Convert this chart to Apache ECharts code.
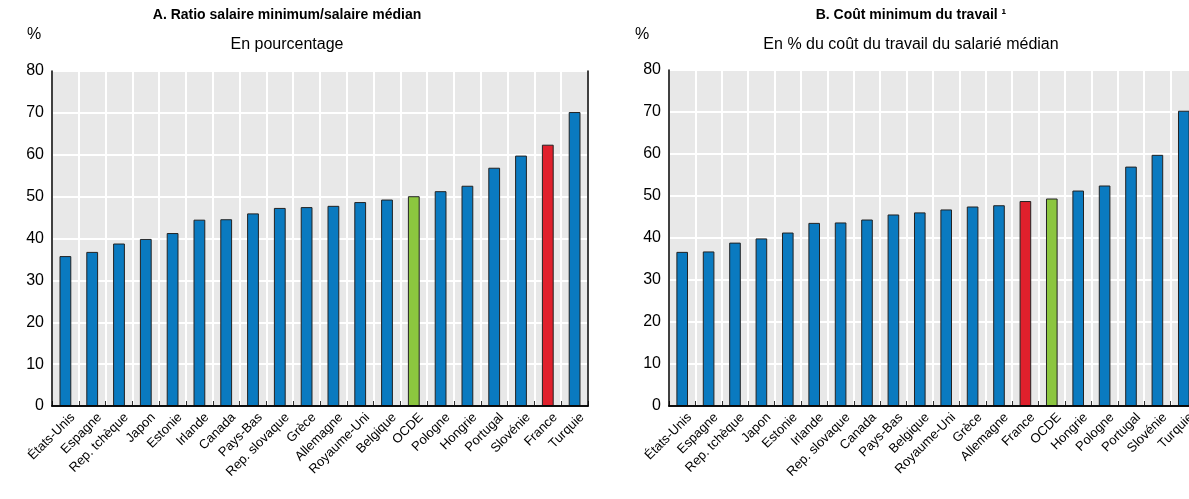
<!DOCTYPE html>
<html>
<head>
<meta charset="utf-8">
<script src="https://cdn.jsdelivr.net/npm/echarts@6/dist/echarts.min.js"></script>
<style>
html,body{margin:0;padding:0;background:#fff;}
#c{width:1189px;height:499px;}
</style>
</head>
<body>
<div id="c"></div>
<script>
const categoriesA = ["États-Unis","Espagne","Rep. tchèque","Japon","Estonie","Irlande","Canada","Pays-Bas","Rep. slovaque","Grèce","Allemagne","Royaume-Uni","Belgique","OCDE","Pologne","Hongrie","Portugal","Slovénie","France","Turquie"];
const valuesA = [35.8,36.8,38.8,39.9,41.3,44.5,44.6,46.0,47.3,47.5,47.8,48.7,49.3,50.1,51.3,52.6,56.9,59.8,62.4,70.2];
const categoriesB = ["États-Unis","Espagne","Rep. tchèque","Japon","Estonie","Irlande","Rep. slovaque","Canada","Pays-Bas","Belgique","Royaume-Uni","Grèce","Allemagne","France","OCDE","Hongrie","Pologne","Portugal","Slovénie","Turquie"];
const valuesB = [36.7,36.8,38.9,39.9,41.3,43.6,43.7,44.4,45.6,46.1,46.8,47.5,47.8,48.8,49.4,51.3,52.5,57.0,59.8,70.3];
const yTicks = {min:0, max:80, interval:10};
const titleA = "A. Ratio salaire minimum/salaire médian";
const subA = "En pourcentage";
const titleB = "B. Coût minimum du travail ¹";
const subB = "En % du coût du travail du salarié médian";

const FONT = "'Liberation Sans',Arial,sans-serif";
const BLUE = '#0A7AC0', RED = '#E0202C', GREEN = '#8CC63F';
function colorFor(name){ return name === 'France' ? RED : (name === 'OCDE' ? GREEN : BLUE); }
function makeData(cats, vals){
  return vals.map((v,i)=>({value:v, itemStyle:{color:colorFor(cats[i])}}));
}

const grids = [
  {left:52, width:536, top:71, height:335},
  {left:669, width:528, top:70, height:336}
];
const chart = echarts.init(document.getElementById('c'));
const xAxes = [], yAxes = [], series = [];
[[categoriesA,valuesA],[categoriesB,valuesB]].forEach(([cats,vals],g)=>{
  xAxes.push({
    type:'category', gridIndex:g, data:cats, boundaryGap:true,
    axisLine:{lineStyle:{color:'#000',width:1.5}},
    axisTick:{show:true, inside:true, length:5, interval:0, lineStyle:{color:'#333',width:1}},
    axisLabel:{interval:0, rotate:45, fontFamily:FONT, fontSize:13, color:'#000', margin:2,
               verticalAlign:'top', lineHeight:21, hideOverlap:false},
    splitLine:{show:true, interval:0, lineStyle:{color:'#fff',width:2}},
    z:2
  });
  xAxes.push({
    type:'category', gridIndex:g, position:'top', data:cats,
    axisLine:{show:true, lineStyle:{color:'#000',width:1.5}},
    axisTick:{show:false}, axisLabel:{show:false}, splitLine:{show:false}, z:10
  });
  yAxes.push({
    type:'value', gridIndex:g, min:yTicks.min, max:yTicks.max, interval:yTicks.interval,
    axisLine:{show:false},
    axisTick:{show:false},
    axisLabel:{fontFamily:FONT, fontSize:16, color:'#000', margin:8},
    splitLine:{show:true, lineStyle:{color:'#fff',width:2}},
    z:1
  });
  yAxes.push({
    type:'value', gridIndex:g, position:'right', min:yTicks.min, max:yTicks.max, interval:yTicks.interval,
    axisLine:{show:true, lineStyle:{color:'#000',width:1.5}},
    axisTick:{show:false}, axisLabel:{show:false}, splitLine:{show:false}, z:10
  });
  yAxes.push({
    type:'value', gridIndex:g, position:'left', min:yTicks.min, max:yTicks.max, interval:yTicks.interval,
    axisLine:{show:true, lineStyle:{color:'#000',width:1.5}},
    axisTick:{show:false}, axisLabel:{show:false}, splitLine:{show:false}, z:10
  });
  series.push({
    type:'bar', xAxisIndex:g*2, yAxisIndex:g*3, data:makeData(cats,vals),
    barWidth:'44%',
    itemStyle:{borderColor:'#222', borderWidth:1},
    z:5
  });
});

chart.setOption({
  animation:false,
  backgroundColor:'#fff',
  grid: grids.map(g=>Object.assign({show:true, backgroundColor:'#e8e8e8', borderWidth:0, containLabel:false, outerBoundsMode:'none'}, g)),
  xAxis:xAxes, yAxis:yAxes, series:series,
  title:[
    {text:titleA, left:282, top:3, textAlign:'center', textStyle:{fontFamily:FONT, fontSize:14, fontWeight:'bold', color:'#000'}},
    {text:subA, left:282, top:32, textAlign:'center', textStyle:{fontFamily:FONT, fontSize:16, fontWeight:'normal', color:'#000'}},
    {text:'%', left:22, top:22, textStyle:{fontFamily:FONT, fontSize:16, fontWeight:'normal', color:'#000'}},
    {text:titleB, left:906, top:3, textAlign:'center', textStyle:{fontFamily:FONT, fontSize:14, fontWeight:'bold', color:'#000'}},
    {text:subB, left:906, top:32, textAlign:'center', textStyle:{fontFamily:FONT, fontSize:16, fontWeight:'normal', color:'#000'}},
    {text:'%', left:630, top:22, textStyle:{fontFamily:FONT, fontSize:16, fontWeight:'normal', color:'#000'}}
  ]
});
</script>
</body>
</html>
